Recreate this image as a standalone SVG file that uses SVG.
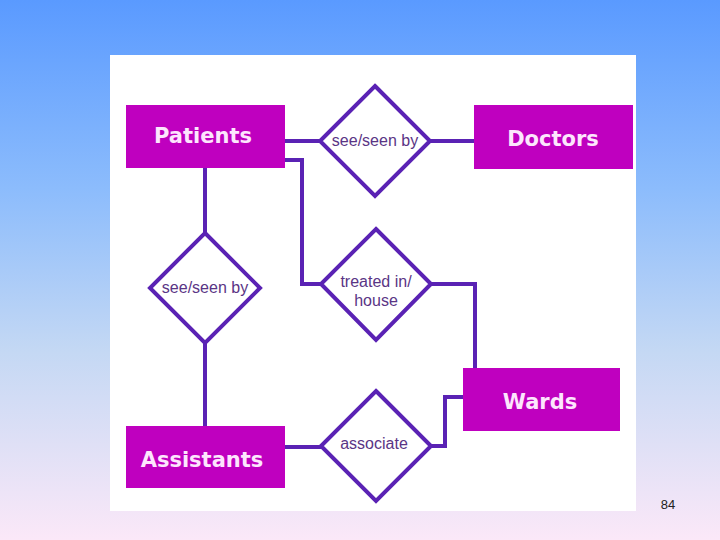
<svg xmlns="http://www.w3.org/2000/svg" width="720" height="540" viewBox="0 0 720 540">
<defs>
<linearGradient id="bg" x1="0" y1="0" x2="0" y2="1">
<stop offset="0" stop-color="#5a9aff"/>
<stop offset="0.35" stop-color="#8cbcfc"/>
<stop offset="0.65" stop-color="#c4d8f4"/>
<stop offset="1" stop-color="#fbe8f8"/>
</linearGradient>
<style>
.ent{fill:#bf00bf;}
.entt{fill:#fde6fd;font-family:"DejaVu Sans",sans-serif;font-weight:bold;font-size:21px;text-anchor:middle;}
.rel{fill:#ffffff;stroke:#5a22b4;stroke-width:4;stroke-linejoin:miter;}
.relt{fill:#5a3585;font-family:"Liberation Sans",Arial,sans-serif;font-size:16px;text-anchor:middle;}
.con{fill:none;stroke:#5a22b4;stroke-width:4;}
</style>
</defs>
<rect width="720" height="540" fill="url(#bg)"/>
<rect x="110" y="55" width="526" height="456" fill="#ffffff"/>
<g id="connectors">
<line class="con" x1="285" y1="141" x2="320" y2="141"/>
<line class="con" x1="430" y1="141" x2="474" y2="141"/>
<line class="con" x1="205" y1="168" x2="205" y2="233"/>
<line class="con" x1="205" y1="343" x2="205" y2="426"/>
<polyline class="con" points="285,160 302,160 302,284 321,284"/>
<polyline class="con" points="430,284 475,284 475,368"/>
<polyline class="con" points="431,446 445,446 445,397 463,397"/>
<line class="con" x1="285" y1="447" x2="321" y2="447"/>
</g>
<g id="patients">
<rect class="ent" x="126" y="105" width="159" height="63"/>
<text class="entt" x="203" y="143">Patients</text>
</g>
<g id="doctors">
<rect class="ent" x="474" y="105" width="159" height="64"/>
<text class="entt" x="553" y="146">Doctors</text>
</g>
<g id="wards">
<rect class="ent" x="463" y="368" width="157" height="63"/>
<text class="entt" x="540" y="409">Wards</text>
</g>
<g id="assistants">
<rect class="ent" x="126" y="426" width="159" height="62"/>
<text class="entt" x="202" y="467">Assistants</text>
</g>
<g id="rel-see-doctors">
<polygon class="rel" points="375,86 430,141 375,196 320,141"/>
<text class="relt" x="375" y="146">see/seen by</text>
</g>
<g id="rel-see-assistants">
<polygon class="rel" points="205,233 260,288 205,343 150,288"/>
<text class="relt" x="205" y="293">see/seen by</text>
</g>
<g id="rel-treated">
<polygon class="rel" points="376,229 431,284 376,340 321,284"/>
<text class="relt" x="376" y="287">treated in/</text>
<text class="relt" x="376" y="306">house</text>
</g>
<g id="rel-associate">
<polygon class="rel" points="376,391 431,446 376,501 321,446"/>
<text class="relt" x="374" y="449">associate</text>
</g>
<text x="668" y="509" font-family="Liberation Sans, Arial, sans-serif" font-size="13" fill="#222" text-anchor="middle">84</text>
</svg>
